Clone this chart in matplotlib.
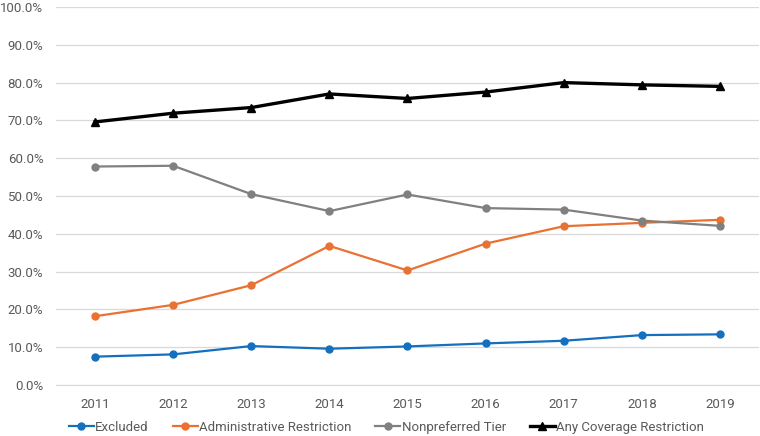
import matplotlib
matplotlib.use("Agg")
import matplotlib.pyplot as plt
from matplotlib.ticker import PercentFormatter

plt.rcParams["font.family"] = ["Roboto", "DejaVu Sans"]

years = ["2011", "2012", "2013", "2014", "2015", "2016", "2017", "2018", "2019"]
excluded = [7.5, 8.1, 10.3, 9.6, 10.2, 11.0, 11.7, 13.2, 13.4]
admin = [18.2, 21.2, 26.4, 36.8, 30.3, 37.4, 42.0, 42.9, 43.7]
nonpref = [57.8, 58.0, 50.5, 46.0, 50.4, 46.8, 46.4, 43.5, 42.1]
any_cov = [69.6, 71.9, 73.4, 77.0, 75.8, 77.5, 80.0, 79.4, 79.0]

fig = plt.figure(figsize=(7.6, 4.36), dpi=100)
ax = fig.add_axes([56 / 760, 51 / 436, 703 / 760, 378 / 436])

x = range(len(years))
ax.plot(x, excluded, color="#156FBF", lw=1.6, marker="o", ms=5, label="Excluded")
ax.plot(x, admin, color="#E97132", lw=1.6, marker="o", ms=5, label="Administrative Restriction")
ax.plot(x, nonpref, color="#808080", lw=1.6, marker="o", ms=5, label="Nonpreferred Tier")
ax.plot(x, any_cov, color="black", lw=2.4, marker="^", ms=6, label="Any Coverage Restriction")

ax.set_xlim(-0.5, len(years) - 0.5)
ax.set_ylim(0, 100)
ax.set_yticks(range(0, 101, 10))
ax.yaxis.set_major_formatter(PercentFormatter(decimals=1))
ax.set_xticks(list(x))
ax.set_xticklabels(years)
ax.grid(axis="y", color="#D9D9D9", lw=0.9)
ax.set_axisbelow(True)
for s in ["top", "right", "left"]:
    ax.spines[s].set_visible(False)
ax.spines["bottom"].set_color("#D9D9D9")
ax.tick_params(length=0, labelsize=9.5, labelcolor="#595959")
ax.tick_params(axis="x", pad=9)
ax.tick_params(axis="y", pad=9)

ax.legend(loc="center", bbox_to_anchor=(0.47, -0.112), ncol=4, frameon=False,
          fontsize=9.5, handlelength=1.9, handletextpad=0.1, columnspacing=1.8,
          labelcolor="#595959")

fig.savefig("out.png", dpi=100)
